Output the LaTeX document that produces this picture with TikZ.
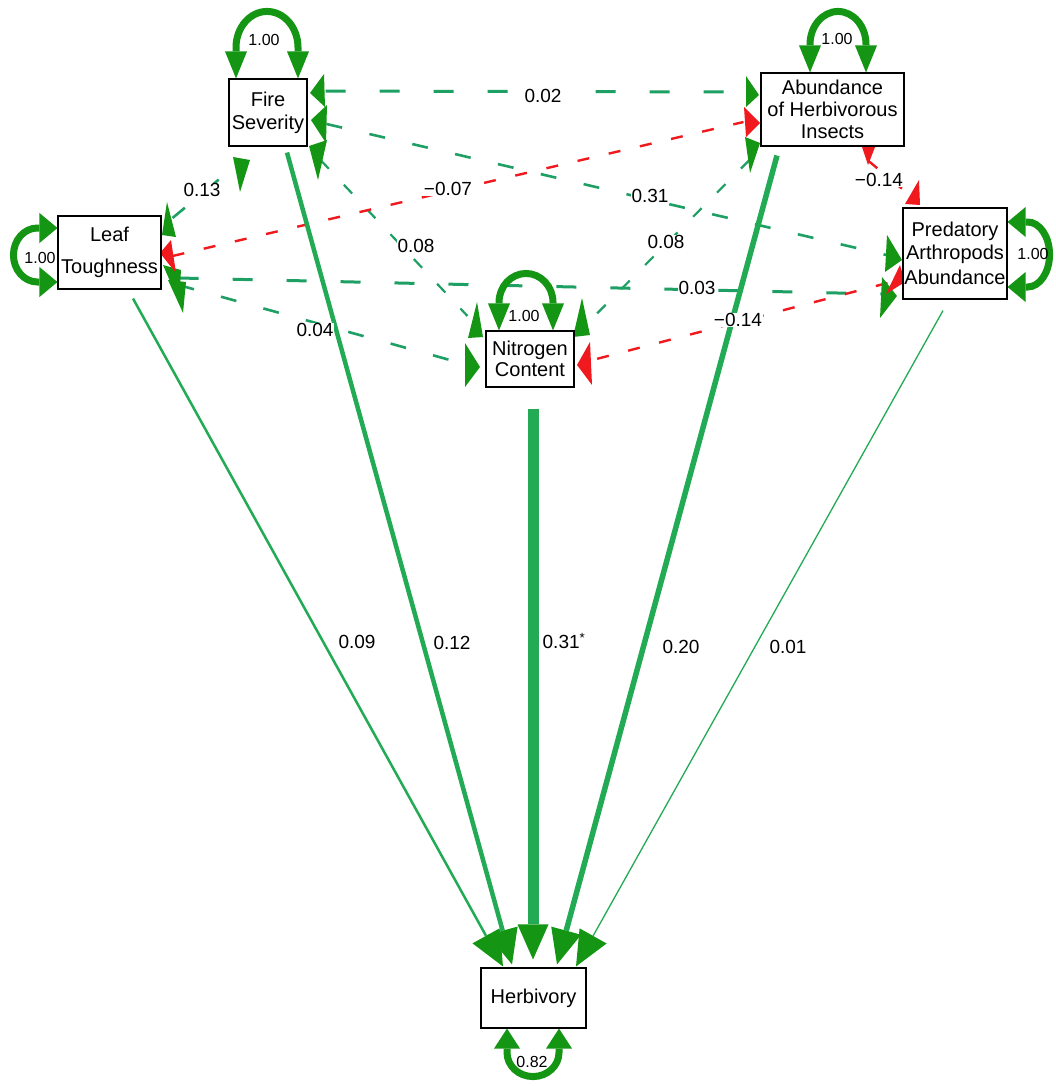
\documentclass[tikz,border=0pt]{standalone}
\usepackage{fontspec}
\setmainfont{Liberation Sans}
\usetikzlibrary{arrows.meta,backgrounds}

\definecolor{lineg}{RGB}{34,170,85}
\definecolor{dashg}{RGB}{30,160,100}
\definecolor{headg}{RGB}{20,150,20}
\definecolor{redc}{RGB}{240,25,30}

\begin{document}
\begin{tikzpicture}[x=1pt,y=-1pt,
  var/.style={draw=black, line width=1.1pt, fill=white, inner sep=0pt,
    align=center, font=\fontsize{20}{23}\selectfont},
  elab/.style={fill=white, inner sep=0.6pt, font=\fontsize{19}{19}\selectfont},
  slab/.style={inner sep=0pt, font=\fontsize{16}{16}\selectfont},
  dirpath/.style={draw=lineg,
    -{Triangle[length=35pt,width=31pt,color=headg,fill=headg,line width=0pt]}},
  covthick/.style={draw=dashg, line width=3pt, dash pattern=on 20pt off 34pt},
  covmid/.style={draw=dashg, line width=2.6pt, dash pattern=on 16pt off 28pt},
  covthin/.style={draw=dashg, line width=2.2pt, dash pattern=on 12pt off 22pt},
  covneg/.style={draw=redc, line width=2.4pt, dash pattern=on 12pt off 20pt},
  poshead/.style={fill=headg},
  neghead/.style={fill=redc},
  selfv/.style={draw=headg, line width=7pt,
    {Triangle[length=27pt,width=22pt,line width=0pt]}-{Triangle[length=27pt,width=22pt,line width=0pt]}},
  selfh/.style={draw=headg, line width=7pt,
    {Triangle[length=18pt,width=30pt,line width=0pt]}-{Triangle[length=18pt,width=30pt,line width=0pt]}},
  selfb/.style={draw=headg, line width=7pt,
    {Triangle[length=20pt,width=26pt,line width=0pt]}-{Triangle[length=20pt,width=26pt,line width=0pt]}}
]
\useasboundingbox (0,0) rectangle (1055,1086);

% variables
\node[var, minimum width=78pt, minimum height=67pt] (fire) at (268,112.5) {Fire\\Severity};
\node[var, minimum width=103pt, minimum height=73pt] (leaf) at (109.5,252.5) {Leaf\\[9pt]Toughness};
\node[var, minimum width=143pt, minimum height=73pt, font=\fontsize{20}{22}\selectfont] (abund) at (832.5,109.5) {Abundance\\of Herbivorous\\Insects};
\node[var, minimum width=104pt, minimum height=91pt] (pred) at (955,253.5) {Predatory\\Arthropods\\[2pt]Abundance};
\node[var, minimum width=88pt, minimum height=56pt, font=\fontsize{20}{21}\selectfont] (nitro) at (530,359) {Nitrogen\\Content};
\node[var, minimum width=105pt, minimum height=60pt] (herb) at (533.5,998) {Herbivory};

\begin{scope}[on background layer]
  \fill[white] (0,0) rectangle (1055,1086);

  % covariances among the predictors
  \draw[covthick] ([shift={(18,-21.5)}]fire.east) -- ([shift={(-15,-17.5)}]abund.west);
  \draw[covmid]   ([shift={(19,11.5)}]fire.east) -- ([shift={(-16,1.5)}]pred.west);
  \draw[covthin]  ([shift={(13,47.5)}]fire.east) -- ([shift={(-18,-43)}]nitro.west);
  \draw[covmid]   ([shift={(11,-34.5)}]leaf.east) -- ([shift={(-30,17)}]fire.south);
  \draw[covthick] ([shift={(17,25.5)}]leaf.east) -- ([shift={(-21,40.5)}]pred.west);
  \draw[covmid]   ([shift={(17,32.5)}]leaf.east) -- ([shift={(-21,5)}]nitro.west);
  \draw[covthin]  ([shift={(-11,50.5)}]abund.west) -- ([shift={(18,-41)}]nitro.east);
  \draw[covneg]   ([shift={(11,3.5)}]leaf.east) -- ([shift={(-17,12.5)}]abund.west);
  \draw[covneg]   ([shift={(35.5,14)}]abund.south) -- ([shift={(-40,-8)}]pred.north);
  \draw[covneg]   ([shift={(-15,29.5)}]pred.west) -- ([shift={(18,1)}]nitro.east);

  % covariance heads
  \fill[poshead] (324,74) -- (310,93) -- (325,107) -- cycle;
  \fill[poshead] (327,105) -- (311,120) -- (326,143) -- cycle;
  \fill[poshead] (309,146) -- (327,140) -- (318,180) -- cycle;
  \fill[poshead] (233,157) -- (250,160) -- (240,192) -- cycle;
  \fill[poshead] (167,202) -- (162,235) -- (176,237) -- cycle;
  \fill[poshead] (163,265) -- (181,270) -- (179,302) -- cycle;
  \fill[poshead] (168,280) -- (186,282) -- (183,313) -- cycle;
  \fill[neghead] (160,253) -- (171,240) -- (176,273) -- cycle;
  \fill[poshead] (746,76) -- (759,95) -- (746,107) -- cycle;
  \fill[poshead] (745,137) -- (760,143) -- (750,173) -- cycle;
  \fill[neghead] (744,107) -- (760,123) -- (746,137) -- cycle;
  \fill[neghead] (861,144) -- (877,142) -- (868,165) -- cycle;
  \fill[poshead] (887,235) -- (902,260) -- (885,272) -- cycle;
  \fill[poshead] (882,277) -- (897,296) -- (880,318) -- cycle;
  \fill[neghead] (905,204) -- (919,180) -- (920,205) -- cycle;
  \fill[neghead] (900,265) -- (905,282) -- (886,294) -- cycle;
  \fill[poshead] (477,302) -- (468,338) -- (483,337) -- cycle;
  \fill[poshead] (465,343) -- (480,367) -- (465,387) -- cycle;
  \fill[poshead] (582,298) -- (573,337) -- (590,335) -- cycle;
  \fill[neghead] (577,365) -- (590,342) -- (592,385) -- cycle;

  % paths to herbivory
  \draw[dirpath, line width=2.5pt] ([shift={(23.5,9)}]leaf.south) -- ([shift={(-30.5,-1)}]herb.north);
  \draw[dirpath, line width=4.5pt] ([shift={(19,6)}]fire.south) -- ([shift={(-21.5,-3)}]herb.north);
  \draw[dirpath, line width=11pt] ([shift={(3,21)}]nitro.south) -- ([shift={(-0.5,-8)}]herb.north);
  \draw[dirpath, line width=5.5pt] ([shift={(-55.5,9)}]abund.south) -- ([shift={(23.5,-3)}]herb.north);
  \draw[dirpath, line width=1.3pt] ([shift={(-12,11)}]pred.south) -- ([shift={(42.5,-1)}]herb.north);

  % variances
  \draw[selfv] ([xshift=-32pt]fire.north) -- ++(0,-31)
    arc[start angle=180, end angle=360, x radius=31, y radius=36] -- ([xshift=30pt]fire.north);
  \draw[selfv] ([xshift=-22.5pt]abund.north) -- ++(0,-28)
    arc[start angle=180, end angle=360, x radius=28, y radius=33] -- ([xshift=33.5pt]abund.north);
  \draw[selfv] ([xshift=-31pt]nitro.north) -- ++(0,-28)
    arc[start angle=180, end angle=360, x radius=27, y radius=29] -- ([xshift=23pt]nitro.north);
  \draw[selfh] ([yshift=24.5pt]leaf.west) -- ++(-20,0)
    arc[start angle=270, end angle=90, x radius=24, y radius=27] -- ([yshift=-29.5pt]leaf.west);
  \draw[selfh] ([yshift=31.5pt]pred.east) -- ++(20,0)
    arc[start angle=270, end angle=450, x radius=22, y radius=32.5] -- ([yshift=-33.5pt]pred.east);
  \draw[selfb] ([xshift=-26.5pt]herb.south) -- ++(0,24)
    arc[start angle=180, end angle=0, x radius=26, y radius=24] -- ([xshift=25.5pt]herb.south);
\end{scope}

% coefficient labels
\node[elab] (c1) at (543,96) {0.02};
\node[elab] (c2) at (202,190) {0.13};
\node[elab] (c3) at (448,189) {−0.07};
\node[elab] (c4) at (650,196) {0.31};
\node[elab] (c5) at (416,246) {0.08};
\node[elab] (c6) at (666,242) {0.08};
\node[elab] (c7) at (697,288) {0.03};
\node[elab] (c8) at (315,330) {0.04};
\node[elab] (c9) at (879,180) {−0.14};
\node[elab] (c10) at (738,320) {−0.14};
\node[elab] (c11) at (357,642) {0.09};
\node[elab] (c12) at (452,643) {0.12};
\node[elab] (c13) at (564,641) {0.31\textsuperscript{*}};
\node[elab] (c14) at (681,647) {0.20};
\node[elab] (c15) at (788,647) {0.01};

% variance labels
\node[slab] (v1) at (264,40) {1.00};
\node[slab] (v2) at (40,258) {1.00};
\node[slab] (v3) at (837,39) {1.00};
\node[slab] (v4) at (1033,254) {1.00};
\node[slab] (v5) at (524,316) {1.00};
\node[slab] (v6) at (532,1062) {0.82};
\end{tikzpicture}
\end{document}
